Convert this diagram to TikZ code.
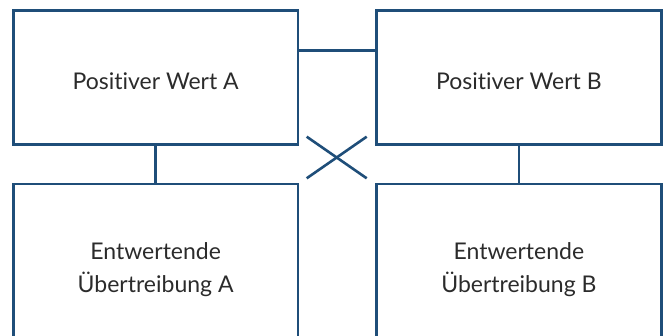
\documentclass[tikz,border=0pt]{standalone}
\usepackage{fontspec}
\setmainfont{Lato}[Ligatures={NoCommon}]
\definecolor{linecol}{HTML}{1F4E79}
\definecolor{textcol}{HTML}{2B2B2B}
\begin{document}
\begin{tikzpicture}[x=1pt,y=1pt,
  box/.style={draw=linecol,line width=2.6pt,minimum width=284.7pt,inner sep=0pt,outer sep=0pt},
  lbl/.style={text=textcol,font=\fontsize{23}{33}\selectfont,align=center,inner sep=0pt},
  conn/.style={draw=linecol,line width=2.6pt}]
\useasboundingbox (0,0) rectangle (667,-336);
\clip (0,0) rectangle (667,-336);
\node[box,minimum height=133.8pt] (pa) at (155.65,-77.4) {};
\node[box,minimum height=133.8pt] (pb) at (518.85,-77.4) {};
\node[box,minimum height=164pt] (ea) at (155.65,-266) {};
\node[box,minimum height=164pt] (eb) at (518.85,-266) {};
\node[lbl] (pat) at ([yshift=-3.5pt]pa.center) {Positiver Wert A};
\node[lbl] (pbt) at ([yshift=-3.5pt]pb.center) {Positiver Wert B};
\node[lbl] (eat) at ([yshift=-3.5pt]ea.center) {Entwertende\\Übertreibung A};
\node[lbl] (ebt) at ([yshift=-3.5pt]eb.center) {Entwertende\\Übertreibung B};
\coordinate (c1) at (306.7,-136.7);
\coordinate (c2) at (366.7,-178.3);
\coordinate (c3) at (306.7,-178.3);
\coordinate (c4) at (366.7,-136.7);
\draw[conn] (pa.east |- 0,-50.7) -- (pb.west |- 0,-50.7);
\draw[conn] (pa.south) -- (ea.north);
\draw[conn] (pb.south) -- (eb.north);
\draw[conn] (c1) -- (c2);
\draw[conn] (c3) -- (c4);
\end{tikzpicture}
\end{document}
